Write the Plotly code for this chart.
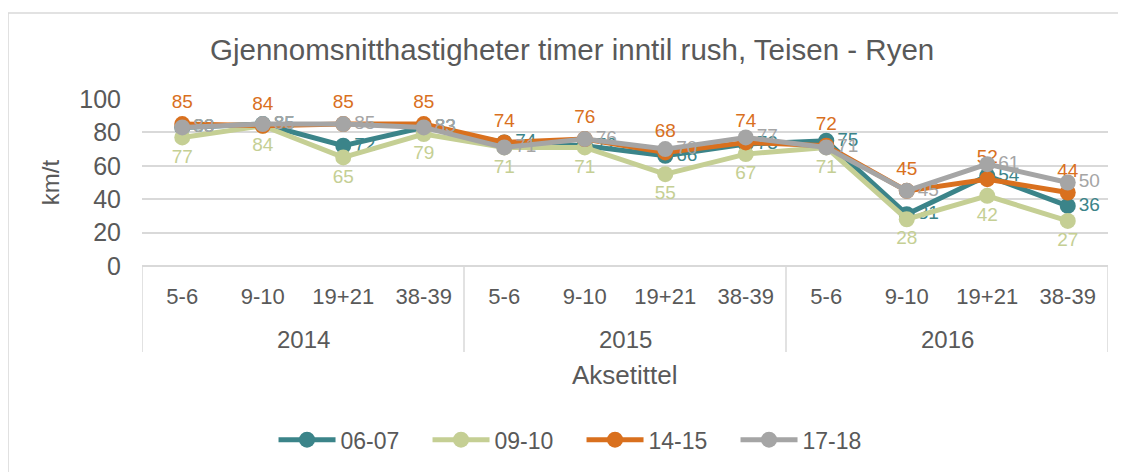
import plotly.graph_objects as go

years = ["2014"] * 4 + ["2015"] * 4 + ["2016"] * 4
periods = ["5-6", "9-10", "19+21", "38-39"] * 3
series_names = ["06-07", "09-10", "14-15", "17-18"]
v_0607 = [83, 85, 72, 83, 74, 72, 66, 73, 75, 31, 54, 36]
v_0910 = [77, 84, 65, 79, 71, 71, 55, 67, 71, 28, 42, 27]
v_1415 = [85, 84, 85, 85, 74, 76, 68, 74, 72, 45, 52, 44]
v_1718 = [83, 85, 85, 83, 71, 76, 70, 77, 71, 45, 61, 50]
y_ticks = [0, 20, 40, 60, 80, 100]

FONT = "Liberation Sans, Arial, sans-serif"
GREY = "#595959"
colors = ["#3b8489", "#c5cf94", "#d9701e", "#a5a5a5"]
positions = ["middle right", "bottom center", "top center", "middle right"]
values = [v_0607, v_0910, v_1415, v_1718]

xs = list(range(len(periods)))

fig = go.Figure()
for name, vals, col, pos in zip(series_names, values, colors, positions):
    fig.add_trace(go.Scatter(
        x=xs, y=vals, name=name, mode="lines+markers+text",
        line=dict(color=col, width=5),
        marker=dict(color=col, size=16),
        text=[str(v) for v in vals], textposition=pos,
        textfont=dict(color=col, size=19, family=FONT),
        cliponaxis=False,
    ))

# group dividers and year labels
group_names = []
group_start = []
for i, yv in enumerate(years):
    if not group_names or group_names[-1] != yv:
        group_names.append(yv)
        group_start.append(i)
group_end = group_start[1:] + [len(years)]

shapes = []
annotations = []
for gname, s, e in zip(group_names, group_start, group_end):
    shapes.append(dict(type="line", xref="x", yref="paper", x0=s - 0.5, x1=s - 0.5,
                       y0=0, y1=-0.515, line=dict(color="#d9d9d9", width=1.5)))
    annotations.append(dict(text=gname, xref="x", yref="paper", x=(s + e - 1) / 2, y=-0.443,
                            showarrow=False, yanchor="middle",
                            font=dict(size=24, color=GREY, family=FONT)))
shapes.append(dict(type="line", xref="x", yref="paper", x0=len(years) - 0.5, x1=len(years) - 0.5,
                   y0=0, y1=-0.515, line=dict(color="#d9d9d9", width=1.5)))
annotations.append(dict(text="Aksetittel", xref="paper", yref="paper", x=0.5, y=-0.653,
                        showarrow=False, yanchor="middle",
                        font=dict(size=26, color=GREY, family=FONT)))
shapes.append(dict(type="rect", xref="paper", yref="paper", x0=-0.1387, x1=1.2, y0=-2, y1=1.515,
                   line=dict(color="#d9d9d9", width=1.5), fillcolor="rgba(0,0,0,0)", layer="below"))

fig.update_layout(
    width=1126, height=472,
    margin=dict(l=134, r=26, t=91, b=214),
    paper_bgcolor="white", plot_bgcolor="white",
    font=dict(family=FONT, color=GREY),
    title=dict(text="Gjennomsnitthastigheter timer inntil rush, Teisen - Ryen",
               x=0.501, xanchor="center", y=0.911, yanchor="middle", yref="container",
               font=dict(size=29.5, color=GREY)),
    showlegend=True,
    legend=dict(orientation="h", x=0.455, xanchor="center", y=-1.04, yanchor="middle",
                font=dict(size=23, color=GREY), itemwidth=57, tracegroupgap=0,
                entrywidth=82, entrywidthmode="pixels"),
    xaxis=dict(range=[-0.5, len(periods) - 0.5], tickvals=xs, ticktext=periods,
               showgrid=False, showline=False, zeroline=False, ticks="", automargin=False,
               tickfont=dict(size=22, color=GREY), ticklabelstandoff=15),
    yaxis=dict(range=[0, 100], tickvals=y_ticks, showgrid=True, gridcolor="#d9d9d9", gridwidth=1.5,
               zeroline=True, zerolinecolor="#d9d9d9", zerolinewidth=1.5, showline=False,
               automargin=False,
               tickfont=dict(size=25, color=GREY), ticklabelstandoff=20,
               title=dict(text="km/t", font=dict(size=24, color=GREY), standoff=12)),
    shapes=shapes,
    annotations=annotations,
)

fig.write_html("out.html")
